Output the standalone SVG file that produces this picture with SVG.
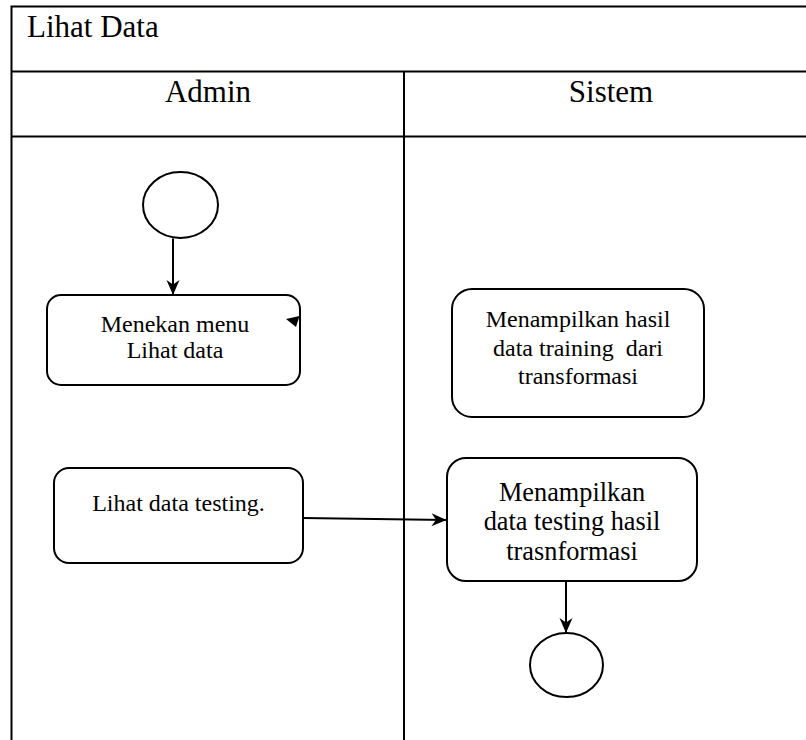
<svg xmlns="http://www.w3.org/2000/svg" width="806" height="740" viewBox="0 0 806 740">
  <style>
    .grid { stroke: #000; stroke-width: 2; fill: none; }
    .node { fill: #fff; stroke: #000; stroke-width: 2; }
    .txt { font-family: "Liberation Serif", "Times New Roman", serif; fill: #000; }
    .hdr { font-size: 31px; }
    .lbl { font-size: 24px; text-anchor: middle; }
    .lbl-lg { font-size: 26.3px; text-anchor: middle; }
    .flow { stroke: #000; stroke-width: 2; fill: none; marker-end: url(#arrow); }
  </style>
  <defs>
    <marker id="arrow" markerUnits="userSpaceOnUse" markerWidth="16" markerHeight="14" refX="15" refY="7" orient="auto">
      <path d="M0,0.5 L15,7 L0,13.5 L4.5,7 Z" fill="#000"/>
    </marker>
  </defs>

  <rect width="806" height="740" fill="#fff"/>

  <!-- swimlane frame -->
  <g id="frame">
    <path class="grid" d="M11.5,740 V6.5 H810 M11.5,71.5 H810 M11.5,136.5 H810 M404,71.5 V740"/>
    <text class="txt hdr" x="27" y="37">Lihat Data</text>
    <text class="txt hdr" x="208" y="102" text-anchor="middle">Admin</text>
    <text class="txt hdr" x="611" y="102" text-anchor="middle">Sistem</text>
  </g>

  <!-- Admin lane -->
  <g id="start">
    <ellipse class="node" cx="180.5" cy="205" rx="37.5" ry="33"/>
  </g>
  <g id="menekan-menu">
    <rect class="node" x="47" y="295" width="253" height="90" rx="14" ry="14"/>
    <text class="txt lbl" x="175" y="332">Menekan menu</text>
    <text class="txt lbl" x="175" y="358">Lihat data</text>
  </g>
  <g id="lihat-testing">
    <rect class="node" x="54" y="468" width="249" height="95" rx="15" ry="15"/>
    <text class="txt lbl" x="178.5" y="511">Lihat data testing.</text>
  </g>

  <!-- Sistem lane -->
  <g id="tampil-training">
    <rect class="node" x="452" y="289" width="252" height="128" rx="20" ry="20"/>
    <text class="txt lbl" x="578" y="327">Menampilkan hasil</text>
    <text class="txt lbl" x="578" y="356" xml:space="preserve">data training  dari</text>
    <text class="txt lbl" x="578" y="384">transformasi</text>
  </g>
  <g id="tampil-testing">
    <rect class="node" x="447" y="458" width="250" height="123" rx="19" ry="19"/>
    <text class="txt lbl-lg" x="572" y="500.5">Menampilkan</text>
    <text class="txt lbl-lg" x="572" y="530">data testing hasil</text>
    <text class="txt lbl-lg" x="572" y="560">trasnformasi</text>
  </g>
  <g id="end">
    <ellipse class="node" cx="566.5" cy="665" rx="36.5" ry="32"/>
  </g>

  <!-- connectors -->
  <g id="connectors">
    <path class="flow" d="M173,238.5 V295"/>
    <path class="flow" d="M303,518 L446.5,520"/>
    <path class="flow" d="M566,581 V633"/>
    <path d="M286,319 L299.5,316 L296,327 Z" fill="#000"/>
  </g>
</svg>
